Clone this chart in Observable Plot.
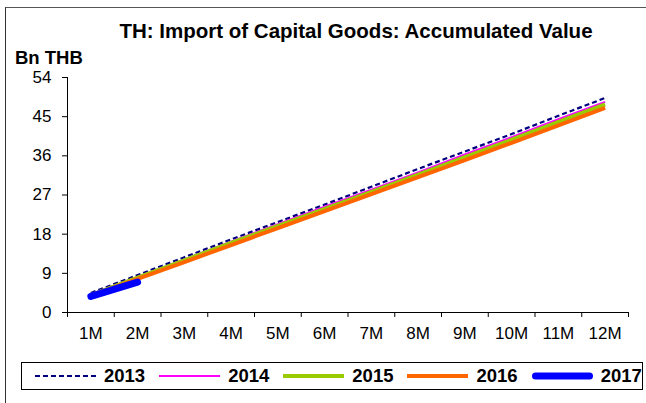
<!DOCTYPE html>
<html>
<head>
<meta charset="utf-8">
<script src="https://cdn.jsdelivr.net/npm/d3@7"></script>
<script src="https://cdn.jsdelivr.net/npm/@observablehq/plot@0.6"></script>
<style>
  html, body { margin: 0; padding: 0; background: #fff; }
  #wrap { position: relative; width: 646px; height: 403px; overflow: hidden; font-family: "Liberation Sans", Arial, sans-serif; }
  #frame { position: absolute; left: 5px; top: 7px; width: 700px; height: 500px; border-left: 1px solid #333; border-top: 1px solid #555; }
  #title { position: absolute; top: 19px; left: 40px; width: 632px; text-align: center; font-weight: bold; font-size: 20.5px; color: #000; }
  #ylab { position: absolute; top: 47px; left: 15px; font-weight: bold; font-size: 18.5px; color: #000; }
  #chart { position: absolute; left: 0; top: 0; }
  #legend { position: absolute; left: 21px; top: 362px; width: 622px; height: 28px; border: 1px solid #000; box-sizing: border-box; display: flex; align-items: center; font-weight: bold; font-size: 18.5px; }
  .item { display: flex; align-items: center; margin-left: 13px; }
  .item + .item { margin-left: 14px; }
  .item svg { margin-right: 8px; }
</style>
</head>
<body>
<div id="wrap">
  <div id="frame"></div>
  <div id="title">TH: Import of Capital Goods: Accumulated Value</div>
  <div id="ylab">Bn THB</div>
  <div id="chart"></div>
  <div id="legend"></div>
</div>
<script>
const months = ["1M","2M","3M","4M","5M","6M","7M","8M","9M","10M","11M","12M"];
const yTicks = [0, 9, 18, 27, 36, 45, 54];
const s2013 = [4.5, 8.6, 12.7, 16.8, 20.8, 24.8, 28.9, 33.0, 37.0, 41.0, 45.2, 49.3];
const s2014 = [4.2, 8.2, 12.2, 16.3, 20.3, 24.3, 28.2, 32.2, 36.3, 40.3, 44.4, 48.4];
const s2015 = [4.0, 8.0, 12.0, 16.0, 19.9, 23.8, 27.7, 31.7, 35.7, 39.7, 43.8, 47.8];
const s2016 = [3.8, 7.7, 11.6, 15.5, 19.4, 23.3, 27.2, 31.1, 35.0, 39.0, 43.0, 47.0];
const s2017 = [3.7, 7.0];

const seriesDefs = [
  {name: "2013", values: s2013, stroke: "#000080", width: 2.2, dash: "5,3", cap: "butt"},
  {name: "2014", values: s2014, stroke: "#FF00FF", width: 2, dash: null, cap: "butt"},
  {name: "2015", values: s2015, stroke: "#99CC00", width: 4, dash: null, cap: "butt"},
  {name: "2016", values: s2016, stroke: "#FF6600", width: 4, dash: null, cap: "butt"},
  {name: "2017", values: s2017, stroke: "#0000FF", width: 7, dash: null, cap: "round"}
];

const idx = months.map((m, i) => i + 1);
const bounds = [0, ...idx].map(i => i + 0.5);

const marks = [
  Plot.ruleY([0], {stroke: "#000", strokeWidth: 1}),
  Plot.ruleX([0.5], {y1: 0, y2: 54, stroke: "#000", strokeWidth: 1}),
  Plot.axisY({ticks: yTicks, tickSize: 5, tickPadding: 11, fontSize: 17, stroke: "#000", color: "#000", label: null}),
  Plot.axisX({ticks: bounds, tickSize: 5, tickFormat: () => "", label: null, stroke: "#000"}),
  Plot.axisX({ticks: idx, tickSize: 0, tickPadding: 14, tickFormat: i => months[i - 1], fontSize: 17, label: null, color: "#000"})
];
for (const s of seriesDefs) {
  const data = s.values.map((v, i) => ({x: i + 1, y: v}));
  marks.push(Plot.line(data, {
    x: "x", y: "y", stroke: s.stroke, strokeWidth: s.width,
    strokeDasharray: s.dash || undefined, strokeLinecap: s.cap, strokeLinejoin: "round"
  }));
}

const chart = Plot.plot({
  width: 646,
  height: 350,
  marginLeft: 67,
  marginRight: 18,
  marginTop: 77,
  marginBottom: 38,
  style: {fontFamily: "Liberation Sans, Arial, sans-serif", color: "#000", background: "transparent", overflow: "visible"},
  x: {domain: [0.5, 12.5], axis: null},
  y: {domain: [0, 54], axis: null},
  marks
});
document.getElementById("chart").appendChild(chart);

const legend = document.getElementById("legend");
for (const s of seriesDefs) {
  const item = document.createElement("div");
  item.className = "item";
  const ns = "http://www.w3.org/2000/svg";
  const svg = document.createElementNS(ns, "svg");
  svg.setAttribute("width", 61);
  svg.setAttribute("height", 12);
  const ln = document.createElementNS(ns, "line");
  const pad = s.cap === "round" ? s.width / 2 : 0;
  ln.setAttribute("x1", pad); ln.setAttribute("x2", 61 - pad);
  ln.setAttribute("y1", 6); ln.setAttribute("y2", 6);
  ln.setAttribute("stroke", s.stroke);
  ln.setAttribute("stroke-width", s.width);
  ln.setAttribute("stroke-linecap", s.cap);
  if (s.dash) ln.setAttribute("stroke-dasharray", s.dash);
  svg.appendChild(ln);
  const t = document.createElement("span");
  t.textContent = s.name;
  item.appendChild(svg);
  item.appendChild(t);
  legend.appendChild(item);
}
</script>
</body>
</html>
